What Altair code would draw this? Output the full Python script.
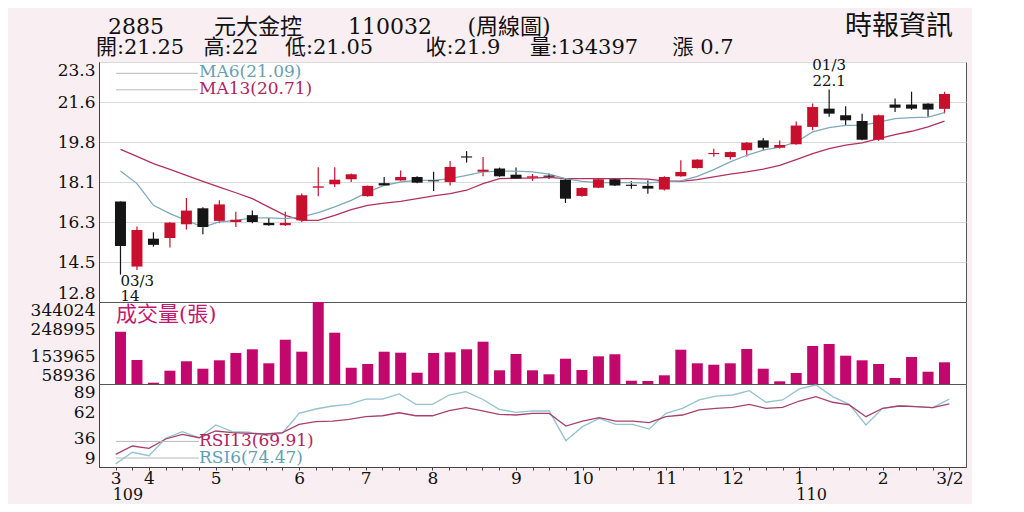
import altair as alt
import pandas as pd

# ---------------- data ----------------
weeks = list(range(51))
opens = [17.2, 14.35, 15.57, 15.6, 16.2, 16.9, 16.35, 16.3, 16.6, 16.26,
         16.16, 16.37, 17.8, 17.95, 18.17, 17.43, 18.0, 18.12, 18.27, 18.12,
         18.05, 19.17, 18.5, 18.64, 18.37, 18.24, 18.33, 18.15, 17.44, 17.8,
         18.17, 17.93, 17.88, 17.72, 18.3, 18.66, 19.27, 19.14, 19.44, 19.87,
         19.55, 19.7, 20.46, 21.26, 20.97, 20.72, 19.9, 21.44, 21.44, 21.48, 21.25]
highs = [17.2, 16.1, 15.85, 16.3, 17.35, 16.95, 17.25, 16.75, 16.8, 16.47,
         16.75, 17.55, 18.7, 18.7, 18.42, 17.9, 18.27, 18.55, 18.3, 18.5,
         18.97, 19.4, 19.14, 18.68, 18.68, 18.4, 18.42, 18.18, 17.82, 18.2,
         18.2, 18.08, 18.12, 18.3, 19.0, 19.05, 19.5, 19.38, 19.8, 19.98,
         19.87, 20.7, 21.48, 22.1, 21.36, 21.04, 21.0, 21.7, 22.0, 21.5, 22.0]
lows = [14.0, 14.2, 15.22, 15.18, 15.97, 15.76, 16.25, 16.08, 16.25, 16.14,
        16.12, 16.3, 17.43, 17.83, 18.05, 17.4, 17.88, 18.1, 18.0, 17.66,
        17.9, 18.9, 18.3, 18.28, 18.18, 18.1, 18.18, 17.13, 17.4, 17.78,
        17.88, 17.76, 17.54, 17.68, 18.28, 18.64, 19.15, 19.03, 19.17, 19.44,
        19.52, 19.68, 20.31, 20.9, 20.53, 19.88, 19.85, 21.11, 21.2, 20.9, 21.05]
closes = [15.25, 15.95, 15.3, 16.27, 16.8, 16.08, 17.07, 16.4, 16.3, 16.16,
          16.26, 17.47, 17.86, 18.15, 18.39, 17.88, 17.9, 18.27, 18.02, 18.08,
          18.71, 19.12, 18.59, 18.3, 18.2, 18.3, 18.28, 17.32, 17.79, 18.17,
          17.9, 17.88, 17.76, 18.27, 18.49, 19.03, 19.32, 19.36, 19.77, 19.55,
          19.67, 20.52, 21.33, 21.04, 20.75, 19.9, 20.97, 21.3, 21.26, 21.22, 21.9]
volumes = [240800, 142400, 63500, 105200, 137900, 112100, 141300, 166700, 179600, 130900,
           212900, 171200, 344024, 237300, 115600, 128500, 171200, 167800, 98200, 166700,
           169100, 179600, 206000, 106600, 163200, 106600, 92700, 146900, 107600, 155200,
           162200, 70400, 69400, 89200, 178200, 130900, 126000, 130900, 180600, 112100,
           68300, 97200, 191000, 198000, 157300, 141300, 128500, 79800, 152800, 101700, 134397]
ma6 = [18.53, 17.98, 17.03, 16.67, 16.37, 16.08, 16.3, 16.37, 16.48, 16.48,
       16.45, 16.52, 16.71, 16.96, 17.25, 17.61, 17.9, 18.05, 18.12, 18.12,
       18.2, 18.34, 18.49, 18.53, 18.53, 18.49, 18.39, 18.2, 18.08, 18.02,
       18.02, 18.02, 18.0, 18.08, 18.1, 18.3, 18.59, 18.93, 19.22, 19.44,
       19.58, 19.8, 20.24, 20.43, 20.53, 20.53, 20.67, 20.82, 20.87, 20.89, 21.09]
ma13 = [19.48, 19.17, 18.85, 18.6, 18.34, 18.08, 17.83, 17.58, 17.32, 16.95,
        16.59, 16.37, 16.37, 16.59, 16.84, 17.03, 17.13, 17.2, 17.32, 17.44,
        17.54, 17.69, 17.98, 18.2, 18.22, 18.22, 18.25, 18.2, 18.2, 18.2,
        18.2, 18.2, 18.18, 18.1, 18.08, 18.15, 18.27, 18.39, 18.49, 18.61,
        18.78, 19.03, 19.29, 19.51, 19.66, 19.76, 19.95, 20.12, 20.27, 20.46, 20.71]
rsi6 = [12.0, 23.2, 19.9, 36.6, 43.0, 37.2, 49.5, 43.0, 42.5, 39.5,
        41.5, 60.7, 64.9, 67.8, 69.4, 74.5, 74.5, 79.4, 69.4, 69.4,
        78.4, 81.6, 74.3, 64.6, 61.7, 63.0, 63.0, 34.4, 47.9, 55.9,
        50.1, 50.1, 45.6, 60.7, 65.6, 73.6, 77.4, 78.4, 82.6, 71.4,
        73.6, 84.2, 88.0, 76.8, 69.4, 49.5, 65.6, 68.1, 67.1, 66.2, 74.47]
rsi13 = [21.2, 29.2, 27.0, 36.0, 40.5, 37.2, 43.7, 42.1, 41.5, 40.8,
         42.1, 50.1, 52.7, 53.3, 55.0, 57.5, 58.4, 61.3, 58.4, 58.4,
         63.3, 66.2, 63.0, 59.8, 59.1, 60.7, 60.7, 48.5, 53.3, 56.5,
         53.3, 53.3, 51.7, 57.5, 59.1, 64.0, 65.6, 66.5, 69.4, 65.6,
         66.5, 72.6, 76.8, 71.4, 68.8, 57.5, 65.6, 67.8, 67.1, 66.2, 69.91]

price_tick_values = [12.8, 14.55, 16.3, 18.05, 19.8, 21.55, 23.3]
price_tick_labels = ["12.8", "14.5", "16.3", "18.1", "19.8", "21.6", "23.3"]
volume_tick_values = [58936, 153965, 248995, 344024]
rsi_tick_values = [9, 36, 62, 89]
month_tick_at = [0, 2, 6, 11, 15, 19, 24, 28, 33, 37, 41, 46, 50]
month_tick_labels = ["3", "4", "5", "6", "7", "8", "9", "10", "11", "12", "1", "2", "3/2"]
year_at = [0, 41]
year_labels = ["109", "110"]

# header pieces (text, centre in px from the plot's left edge)
title_line1 = [("2885", 37), ("元大金控", 159), ("110032", 291), ("(周線圖)", 410)]
title_line2 = [("開:21.25", 41), ("高:22", 132), ("低:21.05", 230), ("收:21.9", 364),
               ("量:134397", 485), ("漲 0.7", 604)]
brand = "時報資訊"
ma_legend = ["MA6(21.09)", "MA13(20.71)"]
rsi_legend = ["RSI13(69.91)", "RSI6(74.47)"]
vol_title = "成交量(張)"
high_note = ["01/3", "22.1"]
high_at, high_val = 43, 22.1
low_note = ["03/3", "14"]
low_at, low_val = 0, 14.0

# ---------------- style ----------------
BG = "#f9eef2"
RED = "#c8102e"
BLACK = "#151515"
MA6_C = "#7fa9bc"
MA13_C = "#b3305f"
VOL_C = "#c2086c"
RSI6_C = "#93c2d3"
RSI13_C = "#a8406e"
FONT = "DejaVu Serif, Noto Sans CJK TC"
W = 867
EXT = 82

df = pd.DataFrame({
    "i": weeks, "open": opens, "high": highs, "low": lows, "close": closes,
    "vol": volumes, "ma6": ma6, "ma13": ma13, "rsi6": rsi6, "rsi13": rsi13,
})
df["dir"] = ["up" if c >= o else "down" for o, c in zip(opens, closes)]

xscale = alt.Scale(domain=[-1, 51], nice=False, zero=False)
dir_color = alt.Color("dir:N", scale=alt.Scale(domain=["up", "down"], range=[RED, BLACK]), legend=None)


def yaxis(values, **kw):
    return alt.Axis(values=values, title=None, ticks=False, labelFont=FONT, labelFontSize=17,
                    labelColor="#111", labelFlush=True, labelPadding=4, domainColor="#444",
                    labelOverlap=False, minExtent=EXT, maxExtent=EXT, **kw)


def txt(s, x, y, color="#111", size=17, align="left"):
    return alt.Chart(pd.DataFrame({"t": [s]})).mark_text(
        align=align, baseline="middle", font=FONT, fontSize=size, color=color
    ).encode(x=alt.value(x), y=alt.value(y), text="t:N")


def hline(x1, x2, y, color="#b8b8b8"):
    return alt.Chart(pd.DataFrame({"t": [0]})).mark_rule(color=color, strokeWidth=1).encode(
        x=alt.value(x1), x2=alt.value(x2), y=alt.value(y))


base = alt.Chart(df).encode(x=alt.X("i:Q", scale=xscale, axis=None))

# ---------------- price panel ----------------
pscale = alt.Scale(domain=[12.8, 23.3], nice=False, zero=False)
price_label_expr = f"{price_tick_labels}[indexof({price_tick_values}, datum.value)]"
paxis = yaxis(price_tick_values, labelExpr=price_label_expr, grid=True,
              gridColor="#dadada", gridWidth=1.2)


def py(field):
    return alt.Y(field, scale=pscale, axis=paxis)


wick = base.mark_rule(strokeWidth=1.2).encode(y=py("low:Q"), y2="high:Q", color=dir_color)
body = base.mark_bar(size=11).encode(y=py("open:Q"), y2="close:Q", color=dir_color)
l6 = base.mark_line(color=MA6_C, strokeWidth=1.3).encode(y=py("ma6:Q"))
l13 = base.mark_line(color=MA13_C, strokeWidth=1.3).encode(y=py("ma13:Q"))

hi_df = pd.DataFrame({"i": [high_at], "p": [high_val]})
lo_df = pd.DataFrame({"i": [low_at], "p": [low_val]})


def note(d, s, dy, align):
    return alt.Chart(d).mark_text(dy=dy, align=align, baseline="middle", font=FONT,
                                  fontSize=15, color="#111").encode(
        x=alt.X("i:Q", scale=xscale, axis=None), y=py("p:Q"), text=alt.value(s))


header = [txt(s, x, -35.5, "#111", 22, align="center") for s, x in title_line1] + \
         [txt(s, x, -14, "#111", 21, align="center") for s, x in title_line2]

price = alt.layer(
    wick, l13, l6, body,
    hline(17, 99, 11.3), hline(17, 99, 27.8),
    txt(ma_legend[0], 100, 10, "#6b9db5", 17),
    txt(ma_legend[1], 100, 26.8, "#b0245f", 17),
    note(hi_df, high_note[0], -24, "center"),
    note(hi_df, high_note[1], -8.5, "center"),
    note(lo_df, low_note[0], 6, "left"),
    note(lo_df, low_note[1], 21, "left"),
    *header,
    txt(brand, 800, -35, "#111", 27, align="center"),
).properties(width=W, height=240)

# ---------------- volume panel ----------------
vscale = alt.Scale(domain=[58936, 344024], nice=False, zero=False)
vbars = base.mark_bar(size=11, color=VOL_C).encode(
    y=alt.Y("vol:Q", scale=vscale, axis=yaxis(volume_tick_values, format="d", grid=False)),
    y2=alt.datum(58936))
volume = alt.layer(
    vbars,
    txt(vol_title, 17, 12.5, "#c2186e", 21),
).properties(width=W, height=82)

# ---------------- RSI panel ----------------
rscale = alt.Scale(domain=[9, 89], nice=False, zero=False)
raxis = yaxis(rsi_tick_values, grid=False)
x_label_expr = (f"indexof({month_tick_at}, datum.value) >= 0 ? "
                f"{month_tick_labels}[indexof({month_tick_at}, datum.value)] : ''")
xaxis = alt.Axis(values=weeks, labelExpr=x_label_expr, title=None, grid=False,
                 tickSize=3, tickColor="#444", domainColor="#444", labelFont=FONT,
                 labelFontSize=17, labelColor="#111", labelPadding=0, labelOverlap=False,
                 labelFlush=False, labelBound=False)
rx = alt.X("i:Q", scale=xscale, axis=xaxis)
rbase = alt.Chart(df).encode(x=rx)
r6 = rbase.mark_line(color=RSI6_C, strokeWidth=1.3, clip=True).encode(
    y=alt.Y("rsi6:Q", scale=rscale, axis=raxis))
r13 = rbase.mark_line(color=RSI13_C, strokeWidth=1.3, clip=True).encode(
    y=alt.Y("rsi13:Q", scale=rscale, axis=raxis))

year_df = pd.DataFrame({"i": year_at, "t": year_labels})
years = alt.Chart(year_df).mark_text(align="left", baseline="middle", dx=-3, font=FONT,
                                     fontSize=16, color="#111").encode(
    x=rx, y=alt.value(111), text="t:N")

rsi = alt.layer(
    r6, r13,
    hline(17, 100, 57.4), hline(17, 100, 74),
    txt(rsi_legend[0], 100, 57.4, "#b0245f", 17),
    txt(rsi_legend[1], 100, 74, "#5f9fb4", 17),
    years,
).properties(width=W, height=83)

chart = alt.vconcat(price, volume, rsi, spacing=0, bounds="flush").configure(
    background=BG,
    padding={"left": 8, "right": 5, "top": 4, "bottom": 0},
).configure_view(fill="white", stroke="#555", strokeWidth=1)

chart.save("out.html", embed_options={"renderer": "svg", "actions": False})
